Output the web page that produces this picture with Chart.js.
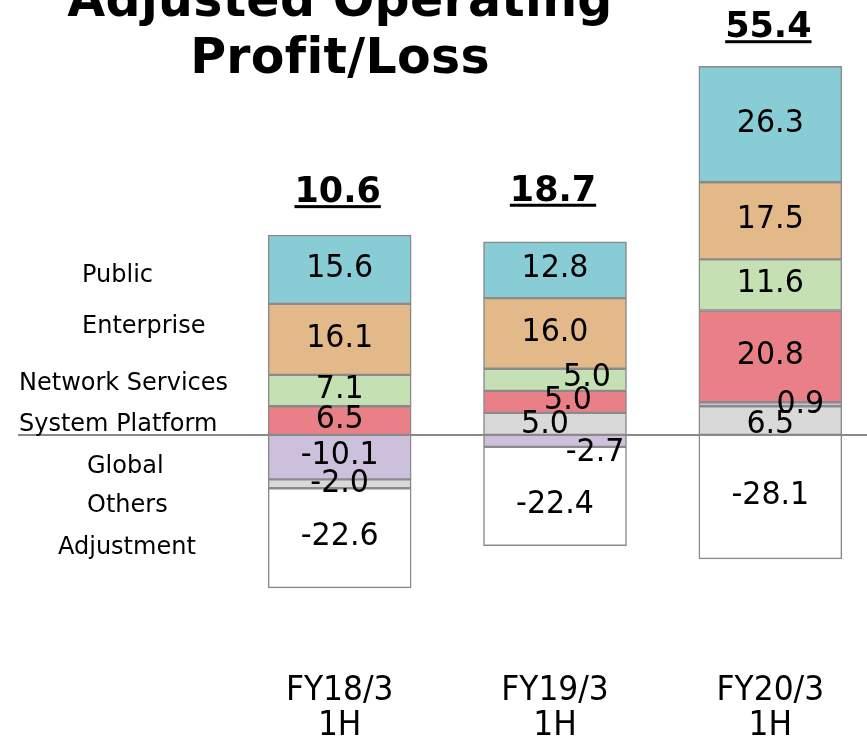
<!DOCTYPE html>
<html lang="en">
<head>
    <meta charset="UTF-8">
    <title>Adjusted Operating Profit/Loss</title>
    <script src="https://cdn.jsdelivr.net/npm/chart.js"></script>
    <style>
        html, body { margin: 0; padding: 0; background: #fff; overflow: hidden; }
        .chart-box { position: relative; width: 880px; height: 740px; }
    </style>
</head>
<body>
    <div class="chart-box">
        <canvas id="profitChart"></canvas>
    </div>

    <script>
        // Data
        const periods = [['FY18/3', '1H'], ['FY19/3', '1H'], ['FY20/3', '1H']];
        const publicSeg = [15.6, 12.8, 26.3];
        const enterprise = [16.1, 16.0, 17.5];
        const networkServices = [7.1, 5.0, 11.6];
        const systemPlatform = [6.5, 5.0, 20.8];
        const globalSeg = [-10.1, -2.7, 0.9];
        const others = [-2.0, 5.0, 6.5];
        const adjustment = [-22.6, -22.4, -28.1];
        const totals = [10.6, 18.7, 55.4];
        const segmentNames = ['Public', 'Enterprise', 'Network Services', 'System Platform', 'Global', 'Others', 'Adjustment'];

        const FONT = '"DejaVu Sans", Verdana, sans-serif';
        const edge = '#8a8a8a';

        // Others sits under Global when positive and above it when negative,
        // so it goes in twice: positive part first, negative part after Global.
        const othersPos = others.map(v => v > 0 ? v : null);
        const othersNeg = others.map(v => v < 0 ? v : null);

        const seg = (label, data, color) => ({
            label, data,
            backgroundColor: color,
            borderColor: edge,
            borderWidth: 1.5,
            borderSkipped: false,
            barThickness: 143
        });

        // label nudges [dx, dy] for the cramped segments, keyed "dataset-index"
        const labelNudge = {
            '3-1': [32, -2], '2-1': [13, -1], '0-1': [-10, 1], '1-1': [40, 12], '7-1': [0, 8],
            '1-2': [30, 0], '0-2': [0, 4],
            '6-0': [0, 0], '1-0': [0, -1]
        };
        const totalNudge = [-4, -12, 0];

        const leftLabels = [
            [82, 276], [82, 327], [19, 384], [19, 425], [87, 467], [87, 506], [58, 548]
        ];

        // slightly narrow text, like the reference face
        function narrowText(ctx, txt, x, y, sx) {
            ctx.save();
            ctx.translate(x, y);
            ctx.scale(sx, 1);
            ctx.fillText(txt, 0, 0);
            ctx.restore();
        }

        const decorPlugin = {
            id: 'decor',
            beforeDatasetsDraw(chart) {
                const ctx = chart.ctx;
                const y0 = chart.scales.y.getPixelForValue(0);
                ctx.save();
                ctx.strokeStyle = '#8a8a8a';
                ctx.lineWidth = 2;
                ctx.beginPath();
                ctx.moveTo(18, y0);
                ctx.lineTo(chart.width, y0);
                ctx.stroke();
                ctx.restore();
            },
            afterDatasetsDraw(chart) {
                const ctx = chart.ctx;
                const xs = chart.scales.x;
                ctx.save();
                ctx.fillStyle = '#000';

                // title
                ctx.font = 'bold 49px ' + FONT;
                ctx.letterSpacing = '0.3px';
                ctx.textAlign = 'center';
                ctx.textBaseline = 'alphabetic';
                ctx.fillText('Adjusted Operating', 340, 16);
                ctx.fillText('Profit/Loss', 340, 73);
                ctx.letterSpacing = '0px';

                // segment values
                ctx.font = '32px ' + FONT;
                ctx.textBaseline = 'middle';
                chart.data.datasets.forEach((ds, di) => {
                    chart.getDatasetMeta(di).data.forEach((bar, i) => {
                        const v = ds.data[i];
                        if (v === null) return;
                        const n = labelNudge[di + '-' + i] || [0, -1];
                        narrowText(ctx, v.toFixed(1), bar.x + n[0], (bar.y + bar.base) / 2 + n[1], 0.94);
                    });
                });

                // totals, bold and underlined
                ctx.font = 'bold 35px ' + FONT;
                ctx.textBaseline = 'alphabetic';
                totals.forEach((t, i) => {
                    let top = Infinity;
                    chart.data.datasets.forEach((ds, di) => {
                        const bar = chart.getDatasetMeta(di).data[i];
                        if (ds.data[i] !== null) top = Math.min(top, bar.y);
                    });
                    const x = xs.getPixelForValue(i) - 2;
                    const y = top - 29 + totalNudge[i];
                    const txt = t.toFixed(1);
                    const w = ctx.measureText(txt).width;
                    ctx.fillText(txt, x, y);
                    ctx.fillRect(x - w / 2, y + 3, w, 3);
                });

                // period labels
                ctx.font = '33px ' + FONT;
                ctx.textBaseline = 'middle';
                periods.forEach((p, i) => {
                    const x = xs.getPixelForValue(i);
                    narrowText(ctx, p[0], x, 691, 0.95);
                    narrowText(ctx, p[1], x, 726, 0.95);
                });

                // segment names on the left
                ctx.font = '24px ' + FONT;
                ctx.textAlign = 'left';
                segmentNames.forEach((name, k) => {
                    ctx.fillText(name, leftLabels[k][0], leftLabels[k][1]);
                });
                ctx.restore();
            }
        };

        new Chart(document.getElementById('profitChart'), {
            type: 'bar',
            data: {
                labels: periods,
                datasets: [
                    seg('Others', othersPos, '#d9d9d9'),
                    seg('Global', globalSeg, '#cdc0dc'),
                    seg('System Platform', systemPlatform, '#e98088'),
                    seg('Network Services', networkServices, '#c5e0b3'),
                    seg('Enterprise', enterprise, '#e4b98a'),
                    seg('Public', publicSeg, '#88ccd6'),
                    seg('Others', othersNeg, '#d9d9d9'),
                    seg('Adjustment', adjustment, '#ffffff')
                ]
            },
            options: {
                responsive: true,
                maintainAspectRatio: false,
                animation: false,
                layout: { padding: { left: 232, right: 2, top: 38, bottom: 40.5 } },
                scales: {
                    x: { stacked: true, display: false },
                    y: { stacked: true, display: false, min: -60, max: 90 }
                },
                plugins: {
                    legend: { display: false },
                    tooltip: { enabled: false }
                }
            },
            plugins: [decorPlugin]
        });
    </script>
</body>
</html>
